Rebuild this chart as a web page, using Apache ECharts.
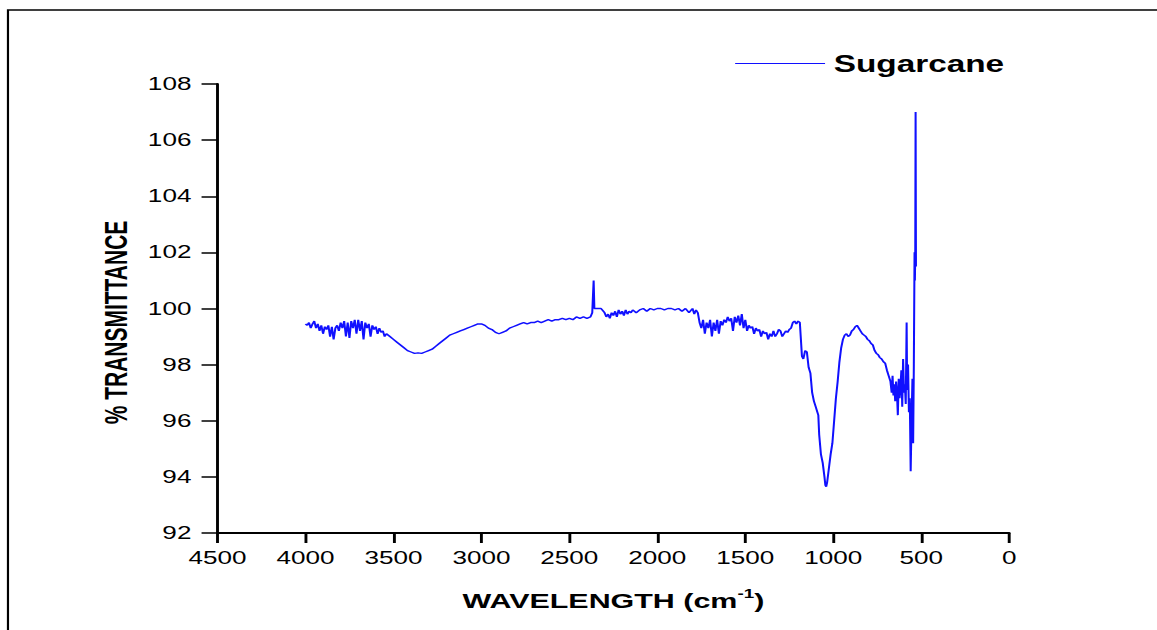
<!DOCTYPE html>
<html>
<head>
<meta charset="utf-8">
<script src="https://cdn.jsdelivr.net/npm/echarts@6/dist/echarts.min.js"></script>
<style>
html,body{margin:0;padding:0;background:#fff;overflow:hidden;}
#wrap{width:1157px;height:630px;overflow:hidden;position:relative;}
#chart{width:798px;height:630px;transform:scaleX(1.45);transform-origin:0 0;position:absolute;left:0;top:0;}
</style>
</head>
<body>
<div id="wrap"><div id="chart"></div></div>
<script>
// Wavenumber (cm-1) and % transmittance
const seriesName = 'Sugarcane';
const xTicks = [4500, 4000, 3500, 3000, 2500, 2000, 1500, 1000, 500, 0];
const yTicks = [92, 94, 96, 98, 100, 102, 104, 106, 108];
const wavenumber = [
4000,3990,3980,3970,3960,3950,3940,3930,3920,3910,3900,3890,3880,3870,3860,3850,3840,3830,3820,3810,
3800,3790,3780,3770,3760,3750,3740,3730,3720,3710,3700,3690,3680,3670,3660,3650,3640,3630,3620,3610,
3600,3590,3580,3570,3560,3550,3540,3520,3500,3480,3460,3440,3420,3400,3380,3360,3340,3320,3300,3280,
3260,3240,3220,3200,3180,3160,3140,3120,3100,3080,3060,3040,3020,3000,2980,2960,2940,2920,2900,2880,
2860,2840,2820,2800,2780,2760,2740,2720,2700,2680,2660,2640,2620,2600,2580,2560,2540,2520,2500,2480,
2460,2440,2420,2400,2380,2370,2362,2358,2340,2320,2300,2290,2280,2270,2260,2250,2240,2230,2220,2210,
2200,2190,2180,2170,2160,2150,2140,2120,2100,2080,2060,2040,2020,2000,1980,1960,1940,1920,1900,1880,
1860,1840,1820,1800,1790,1780,1770,1760,1750,1740,1730,1720,1710,1700,1690,1680,1670,1660,1650,1640,
1630,1620,1610,1600,1590,1580,1570,1560,1550,1540,1530,1520,1510,1500,1490,1480,1470,1460,1450,1440,
1430,1420,1410,1400,1390,1380,1370,1360,1350,1340,1330,1320,1310,1300,1290,1280,1270,1260,1250,1240,
1230,1220,1210,1200,1190,1185,1178,1170,1160,1150,1140,1130,1120,1110,1100,1090,1085,1080,1070,1060,
1050,1045,1040,1035,1025,1015,1005,995,985,975,965,955,945,935,925,915,905,895,885,875,
865,855,845,835,825,815,805,795,785,775,765,755,745,735,725,715,705,695,685,675,
668,663,658,653,648,643,638,633,628,623,618,613,608,603,598,593,588,583,580,575,
570,565,560,555,550,546,542,538,536,534,532,530
];
const transmittance = [
99.45,99.4,99.5,99.3,99.45,99.55,99.3,99.45,99.2,99.4,99.1,99.35,99.25,99.4,99.0,99.35,98.9,99.3,99.4,99.2,
99.5,99.3,99.55,99.0,99.5,98.95,99.55,99.3,99.6,99.1,99.6,99.2,99.55,98.9,99.5,99.3,99.45,99.0,99.4,99.25,
99.35,99.1,99.3,99.15,99.2,99.0,99.1,99.0,98.9,98.8,98.7,98.6,98.5,98.45,98.4,98.42,98.4,98.45,98.5,98.55,
98.65,98.75,98.85,98.95,99.05,99.1,99.15,99.2,99.25,99.3,99.35,99.4,99.45,99.45,99.4,99.3,99.25,99.15,99.1,99.15,
99.2,99.3,99.35,99.4,99.45,99.5,99.45,99.5,99.5,99.55,99.5,99.55,99.6,99.55,99.6,99.6,99.65,99.6,99.65,99.6,
99.7,99.65,99.7,99.65,99.7,99.85,101.0,100.0,100.0,100.0,99.85,99.7,99.8,99.65,99.85,99.75,99.9,99.7,99.95,99.8,
99.9,99.75,99.95,99.8,99.9,99.85,99.95,99.85,99.95,100.0,99.9,100.0,99.95,100.0,100.0,99.95,100.0,100.0,99.95,100.0,
99.9,100.0,99.85,100.0,99.8,99.95,99.85,99.5,99.3,99.6,99.1,99.5,99.3,99.6,99.0,99.5,99.2,99.6,99.1,99.55,
99.4,99.6,99.5,99.7,99.55,99.65,99.2,99.7,99.5,99.75,99.4,99.8,99.3,99.6,99.2,99.4,99.3,99.35,99.1,99.3,
99.2,99.25,99.0,99.2,99.1,99.15,98.9,99.1,99.0,99.2,99.0,99.1,99.25,99.2,99.0,99.1,99.2,99.15,99.25,99.3,
99.5,99.55,99.45,99.55,99.5,99.0,98.3,98.2,98.5,98.45,97.9,97.7,97.0,96.7,96.5,96.3,96.2,95.5,94.8,94.5,
94.0,93.7,93.65,93.8,94.3,94.8,95.2,96.0,96.8,97.4,98.1,98.6,98.9,99.05,99.1,99.0,99.05,99.2,99.25,99.35,
99.4,99.3,99.2,99.1,99.05,99.0,98.9,98.85,98.75,98.7,98.5,98.4,98.35,98.25,98.2,98.1,98.05,97.8,97.6,97.4,
97.0,97.6,96.9,97.3,96.7,97.4,97.0,96.2,97.5,96.8,97.2,97.8,96.5,98.2,97.0,97.3,96.6,99.5,97.1,98.0,
96.3,96.8,94.2,96.0,97.5,95.2,98.0,102.0,101.0,102.0,107.0,101.5
];

const data = wavenumber.map((w, i) => [w, transmittance[i]]);
const chart = echarts.init(document.getElementById('chart'), null, {renderer: 'svg'});
const font = 'Liberation Sans, Arial, sans-serif';
chart.setOption({
  animation: false,
  backgroundColor: '#fff',
  graphic: [{
    type: 'rect', silent: true, z: 0,
    shape: {x: 5.5, y: 10, width: 1200, height: 1000},
    style: {fill: 'none', stroke: '#000', lineWidth: 1.5}
  }],
  legend: {
    data: [seriesName],
    left: 502, top: 47,
    icon: 'rect', itemWidth: 62, itemHeight: 1.2, itemGap: 0,
    textStyle: {fontFamily: font, fontWeight: 'bold', fontSize: 23, color: '#000', padding: [0, 0, 0, 1]}
  },
  grid: {left: 150, right: 102, top: 84, bottom: 97, containLabel: false},
  xAxis: {
    type: 'value', inverse: true,
    min: xTicks[xTicks.length - 1], max: xTicks[0], interval: 500,
    name: '{a|WAVELENGTH (cm}{s|-1}{a|)}',
    nameLocation: 'middle', nameGap: 54,
    nameTextStyle: {
      rich: {
        a: {fontFamily: font, fontWeight: 'bold', fontSize: 21, color: '#000', verticalAlign: 'bottom', lineHeight: 24},
        s: {fontFamily: font, fontWeight: 'bold', fontSize: 13, color: '#000', verticalAlign: 'top', lineHeight: 24, padding: [0, 0, 10, 0]}
      }
    },
    axisLine: {show: true, onZero: false, lineStyle: {color: '#000', width: 2}},
    axisTick: {show: true, inside: false, length: 10, lineStyle: {color: '#000', width: 2}},
    axisLabel: {fontFamily: font, fontSize: 18, color: '#000', margin: 16, formatter: (v) => String(v)},
    splitLine: {show: false}
  },
  yAxis: {
    type: 'value',
    min: yTicks[0], max: yTicks[yTicks.length - 1], interval: 2,
    name: '% TRANSMITTANCE',
    nameLocation: 'middle', nameGap: 58, nameRotate: 90,
    nameTextStyle: {fontFamily: font, fontWeight: 'bold', fontSize: 21, color: '#000', padding: [0, 28, 0, 0]},
    axisLine: {show: true, onZero: false, lineStyle: {color: '#000', width: 2}},
    axisTick: {show: true, inside: false, length: 11, lineStyle: {color: '#000', width: 1.5}},
    axisLabel: {fontFamily: font, fontSize: 18, color: '#000', margin: 18, formatter: (v) => String(v)},
    splitLine: {show: false}
  },
  series: [{
    name: seriesName,
    type: 'line',
    data: data,
    showSymbol: false,
    symbol: 'none',
    lineStyle: {color: '#1010ff', width: 1.4},
    itemStyle: {color: '#1010ff'}
  }]
});
</script>
</body>
</html>
